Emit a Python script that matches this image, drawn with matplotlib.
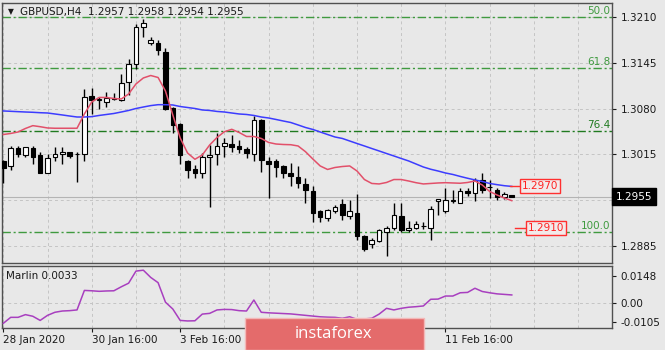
import numpy as np
import matplotlib
matplotlib.use('Agg')
import matplotlib.pyplot as plt
from matplotlib.patches import Rectangle

plt.rcParams['font.family'] = ['DejaVu Sans']

# GBPUSD H4 candles, 28 Jan 16:00 .. 13 Feb 04:00
opens = [1.3006, 1.2998, 1.3024, 1.3014, 1.3024, 1.3014, 1.2989, 1.3012, 1.3016, 1.3018,
         1.3015, 1.3016, 1.3098, 1.3093, 1.3090, 1.3094, 1.3093, 1.3118, 1.3143, 1.3196,
         1.3173, 1.3174, 1.3161, 1.3081, 1.3058, 1.3005, 1.2994, 1.2989, 1.3011, 1.3016,
         1.3027, 1.3030, 1.3027, 1.3022, 1.3016, 1.3064, 1.3006, 1.3005, 1.2998, 1.2988,
         1.2983, 1.2973, 1.2963, 1.2934, 1.2924, 1.2934, 1.2945, 1.2927, 1.2932, 1.2899,
         1.2888, 1.2892, 1.2905, 1.2910, 1.2927, 1.2907, 1.2911, 1.2913, 1.2911, 1.2949,
         1.2935, 1.2949, 1.2946, 1.2963, 1.2960, 1.2979, 1.2969, 1.2964, 1.2955, 1.2957]
highs = [1.3007, 1.3027, 1.3027, 1.3026, 1.3027, 1.3019, 1.3015, 1.3026, 1.3026, 1.3019,
         1.3019, 1.3108, 1.3110, 1.3096, 1.3104, 1.3103, 1.3130, 1.3150, 1.3200, 1.3207,
         1.3182, 1.3178, 1.3166, 1.3083, 1.3059, 1.3007, 1.3000, 1.3017, 1.3028, 1.3045,
         1.3038, 1.3043, 1.3036, 1.3026, 1.3069, 1.3066, 1.3012, 1.3008, 1.3000, 1.3003,
         1.2998, 1.2981, 1.2970, 1.2936, 1.2937, 1.2943, 1.2952, 1.2950, 1.2959, 1.2900,
         1.2896, 1.2909, 1.2913, 1.2946, 1.2946, 1.2921, 1.2921, 1.2919, 1.2942, 1.2952,
         1.2967, 1.2964, 1.2967, 1.2967, 1.2982, 1.2989, 1.2979, 1.2967, 1.2962, 1.2958]
lows = [1.2974, 1.2993, 1.3012, 1.3011, 1.3001, 1.2988, 1.2988, 1.3006, 1.3001, 1.3010,
        1.2976, 1.3006, 1.3073, 1.3079, 1.3082, 1.3092, 1.3091, 1.3100, 1.3136, 1.3182,
        1.3171, 1.3156, 1.3078, 1.3045, 1.3002, 1.2981, 1.2981, 1.2981, 1.2940, 1.3000,
        1.3012, 1.3019, 1.3017, 1.3010, 1.3005, 1.2990, 1.2953, 1.2983, 1.2981, 1.2970,
        1.2967, 1.2946, 1.2919, 1.2919, 1.2921, 1.2932, 1.2922, 1.2923, 1.2894, 1.2877,
        1.2882, 1.2891, 1.2870, 1.2907, 1.2905, 1.2904, 1.2909, 1.2909, 1.2893, 1.2929,
        1.2931, 1.2946, 1.2946, 1.2956, 1.2949, 1.2960, 1.2953, 1.2950, 1.2951, 1.2954]
closes = [1.2995, 1.3024, 1.3016, 1.3025, 1.3012, 1.2989, 1.3010, 1.3015, 1.3019, 1.3013,
          1.3015, 1.3096, 1.3093, 1.3094, 1.3095, 1.3095, 1.3117, 1.3143, 1.3196, 1.3202,
          1.3177, 1.3163, 1.3079, 1.3057, 1.3014, 1.2993, 1.2988, 1.3012, 1.3014, 1.3027,
          1.3031, 1.3026, 1.3023, 1.3017, 1.3064, 1.3007, 1.3002, 1.2997, 1.2988, 1.2984,
          1.2974, 1.2964, 1.2932, 1.2926, 1.2936, 1.2940, 1.2929, 1.2934, 1.2899, 1.2880,
          1.2893, 1.2908, 1.2910, 1.2929, 1.2908, 1.2911, 1.2916, 1.2913, 1.2937, 1.2951,
          1.2950, 1.2950, 1.2963, 1.2960, 1.2978, 1.2964, 1.2968, 1.2954, 1.2959, 1.2955]

ma_blue = [1.30768, 1.30763, 1.30758, 1.30753, 1.30749, 1.30743, 1.30739, 1.30725, 1.30711, 1.30696,
           1.30682, 1.30682, 1.30687, 1.30704, 1.30718, 1.30732, 1.30753, 1.30775, 1.30803, 1.30824,
           1.30844, 1.30857, 1.30857, 1.30853, 1.30831, 1.30817, 1.30803, 1.30782, 1.30775, 1.30761,
           1.30753, 1.30739, 1.30725, 1.30718, 1.30704, 1.30682, 1.30668, 1.30647, 1.30625, 1.30604,
           1.30569, 1.30533, 1.30505, 1.30469, 1.30433, 1.30398, 1.30377, 1.30341, 1.30305, 1.30270,
           1.30234, 1.30199, 1.30163, 1.30128, 1.30092, 1.30057, 1.30014, 1.29971, 1.29939, 1.29914,
           1.29886, 1.29865, 1.29837, 1.29811, 1.29787, 1.29765, 1.29737, 1.29720, 1.29705, 1.29695]
ma_red = [1.30433, 1.30448, 1.30469, 1.30519, 1.30559, 1.30544, 1.30526, 1.30522, 1.30522, 1.30522,
          1.30522, 1.30725, 1.30896, 1.30960, 1.30960, 1.30945, 1.30938, 1.31009, 1.31152, 1.31237,
          1.31272, 1.31244, 1.31052, 1.30711, 1.30384, 1.30170, 1.30081, 1.30142, 1.30284, 1.30391,
          1.30473, 1.30507, 1.30462, 1.30405, 1.30405, 1.30377, 1.30320, 1.30298, 1.30291, 1.30288,
          1.30270, 1.30189, 1.30085, 1.29986, 1.29936, 1.29964, 1.29978, 1.29986, 1.29914, 1.29793,
          1.29737, 1.29730, 1.29751, 1.29793, 1.29793, 1.29772, 1.29748, 1.29730, 1.29737, 1.29744,
          1.29748, 1.29744, 1.29740, 1.29751, 1.29772, 1.29715, 1.29623, 1.29573, 1.29530, 1.29492]
marlin = [-0.0114, -0.0081, -0.0081, -0.0066, -0.0075, -0.0098, -0.0070, -0.0053, -0.0046, -0.0044,
          -0.0040, 0.0068, 0.0066, 0.0063, 0.0065, 0.0066, 0.0088, 0.0108, 0.0175, 0.0180,
          0.0140, 0.0111, 0.0003, -0.0035, -0.0098, -0.0101, -0.0100, -0.0063, -0.0059, -0.0040,
          -0.0037, -0.0038, -0.0044, -0.0046, 0.0015, -0.0053, -0.0056, -0.0058, -0.0060, -0.0062,
          -0.0066, -0.0070, -0.0074, -0.0078, -0.0080, -0.0081, -0.0086, -0.0078, -0.0092, -0.0090,
          -0.0086, -0.0063, -0.0031, -0.0040, -0.0031, -0.0025, -0.0022, -0.0018, 0.0019, 0.0020,
          0.0037, 0.0037, 0.0055, 0.0057, 0.0080, 0.0062, 0.0055, 0.0049, 0.0046, 0.0043]

fib_levels = [1.3210, 1.3138, 1.3048, 1.2905]
fib_names = ['50.0', '61.8', '76.4', '100.0']
fib_colors = ['#3f9a3f', '#3f9a3f', '#1f7a1f', '#3f9a3f']
price_ticks = [1.3210, 1.3145, 1.3080, 1.3015, 1.2950, 1.2885]
# the 1.2950 label sits under the current price box
price_labels = ['1.3210', '1.3145', '1.3080', '1.3015', '', '1.2885']
marlin_ticks = [0.0148, 0.0, -0.0105]
marlin_labels = ['0.0148', '0.00', '-0.0105']
# labels at bars 36 and 48 are under the watermark
date_ticks = [0, 12, 24, 60]
date_labels = ['28 Jan 2020', '30 Jan 16:00', '3 Feb 16:00', '11 Feb 16:00']
last_price = 1.2955
ma_label = 1.2970
level_label = 1.2910

bg = '#e8e8e8'
grid_c = '#c4c4c4'
frame_c = '#505050'
x = np.arange(len(opens))
o, h, l, c = map(np.array, (opens, highs, lows, closes))

fig = plt.figure(figsize=(6.65, 3.5), dpi=100, facecolor=bg)
ax = fig.add_axes([2/665, 1 - 263/350, 610/665, 260/350])
ax2 = fig.add_axes([2/665, 1 - 328/350, 610/665, 62/350])

for a in (ax, ax2):
    a.set_facecolor(bg)
    a.set_xlim(-0.18, 82.6)
    for s in a.spines.values():
        s.set_color(frame_c)
        s.set_linewidth(1)
    for gx in range(0, 83, 6):
        a.axvline(gx, color=grid_c, lw=0.7, ls=(0, (3, 3)), zorder=0)
    a.yaxis.tick_right()
    a.tick_params(axis='y', direction='out', length=3, pad=3, labelsize=7.5,
                  colors='#1a1a1a', width=0.8)

# price panel
ax.set_ylim(1.28606, 1.32303)
ax.set_yticks(price_ticks)
ax.set_yticklabels(price_labels)
ax.set_xticks([])
for p in price_ticks:
    ax.axhline(p, color=grid_c, lw=0.7, ls=(0, (3, 3)), zorder=0)
ax.axhline(last_price, color='#b4b4b4', lw=0.8, zorder=1)

for lev, name, col in zip(fib_levels, fib_names, fib_colors):
    ax.axhline(lev, color=col, lw=1, ls=(0, (6, 2, 1.5, 2)), zorder=2)
    ax.text(82.4, lev + 0.00012, name, color=col, fontsize=7.5, ha='right', va='bottom', zorder=6)

ax.vlines(x, l, h, color='black', lw=1, zorder=3)
body_col = np.where(c >= o, 'white', 'black')
ax.bar(x, np.abs(c - o), bottom=np.minimum(o, c), width=0.62, color=body_col,
       edgecolor='black', linewidth=0.8, zorder=4)

ax.plot(x, ma_blue, color='#3c3cff', lw=1.1, zorder=5)
ax.plot(x, ma_red, color='#e2506a', lw=1.1, zorder=5)

# labels on the right of the last bar
ax.plot([68.8, 70.2], [ma_label, ma_label], color='#ff3030', lw=1, zorder=6)
ax.text(70.35, ma_label, f'{ma_label:.4f}', color='#ff2020', fontsize=7.5, ha='left', va='center',
        bbox=dict(boxstyle='square,pad=0.2', facecolor='#f2eaea', edgecolor='#ff3030', lw=1), zorder=7)
ax.plot([69.4, 71.0], [level_label, level_label], color='#ff3030', lw=1, zorder=6)
ax.text(71.2, level_label, f'{level_label:.4f}', color='#ff2020', fontsize=7.5, ha='left', va='center',
        bbox=dict(boxstyle='square,pad=0.2', facecolor='#f2eaea', edgecolor='#ff3030', lw=1), zorder=7)

ax.text(1.006, last_price, f'{last_price:.4f}', transform=ax.get_yaxis_transform(), color='white',
        fontsize=7.5, ha='left', va='center', clip_on=False, zorder=10,
        bbox=dict(boxstyle='square,pad=0.35', facecolor='black', edgecolor='black'))

fig.text(8/665, 1 - 12/350, '\u25bc', fontsize=5.5, color='#1a1a1a', va='center')
fig.text(20/665, 1 - 12/350, f'GBPUSD,H4  {opens[-1]:.4f} {highs[-1]:.4f} {lows[-1]:.4f} {closes[-1]:.4f}',
         fontsize=7.5, color='#1a1a1a', va='center')

# indicator panel
ax2.set_ylim(-0.0140, 0.02032)
ax2.set_yticks(marlin_ticks)
ax2.set_yticklabels(marlin_labels)
ax2.axhline(0, color=grid_c, lw=0.7, ls=(0, (3, 3)), zorder=0)
ax2.plot(x, marlin, color='#a83fbf', lw=1.1, zorder=3)
ax2.text(0.007, 0.92, 'Marlin 0.0033', transform=ax2.transAxes, fontsize=7.5, color='#1a1a1a', va='top')
ax2.set_xticks(date_ticks)
ax2.set_xticklabels(date_labels, ha='left')
ax2.tick_params(axis='x', direction='out', length=3, pad=2, labelsize=7.5, colors='#1a1a1a', width=0.8)

# watermark
fig.patches.append(Rectangle((245/665, 0), 179/665, 32/350, transform=fig.transFigure,
                             facecolor='#e46b6b', edgecolor='#f3b8b8', lw=1, zorder=20))
fig.text(334/665, 1 - 334/350, 'instaforex', color='white', fontsize=12, ha='center', va='center',
         family=['Open Sans', 'DejaVu Sans'], zorder=21)

fig.savefig('out.png', dpi=100, facecolor=bg)
